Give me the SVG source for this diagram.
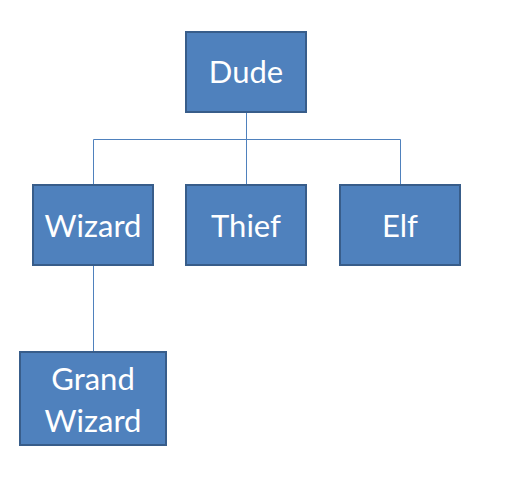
<svg xmlns="http://www.w3.org/2000/svg" width="518" height="479" viewBox="0 0 518 479">
<style>
.box{fill:#4F81BD;stroke:#385D8A;stroke-width:2}
.lbl{fill:#FFFFFF;font-family:Lato,"Open Sans",sans-serif;font-size:31px;text-anchor:middle}
.conn{fill:none;stroke:#4F81BD;stroke-width:1}
</style>
<rect width="518" height="479" fill="#FFFFFF"/>
<g id="connectors">
<path class="conn" d="M246.5 112 V139.5 M93.5 139.5 H400.5 M93.5 139.5 V185 M246.5 139.5 V185 M400.5 139.5 V185 M93.5 266 V352"/>
</g>
<g id="dude"><rect class="box" x="186" y="32" width="120" height="80"/><text class="lbl" x="246" y="83">Dude</text></g>
<g id="wizard"><rect class="box" x="33" y="185" width="120" height="80"/><text class="lbl" x="93" y="237">Wizard</text></g>
<g id="thief"><rect class="box" x="186" y="185" width="120" height="80"/><text class="lbl" x="246" y="237">Thief</text></g>
<g id="elf"><rect class="box" x="340" y="185" width="120" height="80"/><text class="lbl" x="400" y="237">Elf</text></g>
<g id="grand-wizard"><rect class="box" x="20" y="352" width="146" height="93"/><text class="lbl" x="93" y="390">Grand</text><text class="lbl" x="93" y="432">Wizard</text></g>
</svg>
